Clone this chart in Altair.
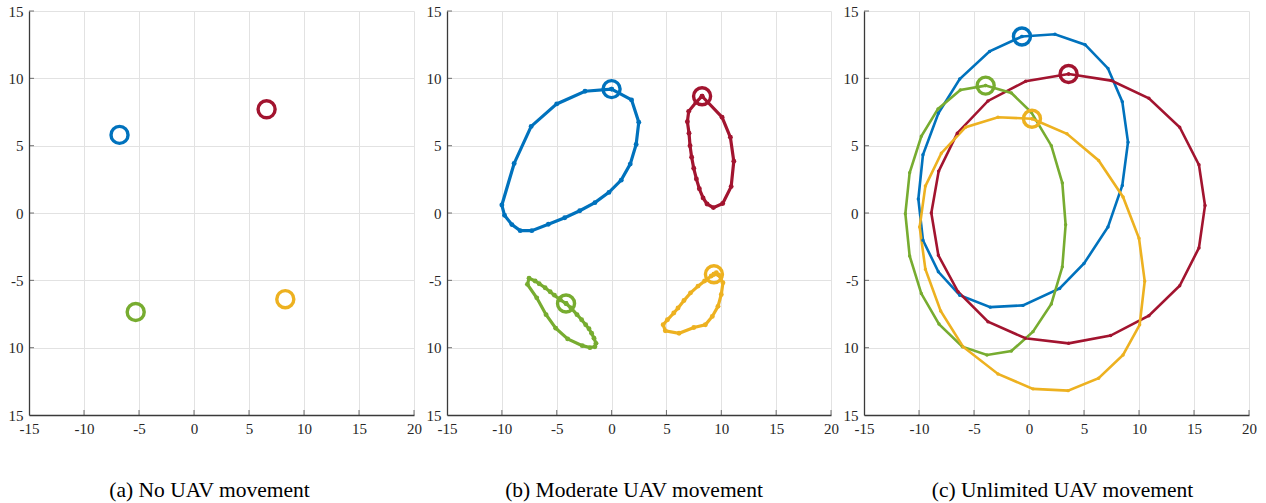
import altair as alt
import pandas as pd

# ---- series colours (UAV 1..4) ----
SERIES = ["UAV 1", "UAV 2", "UAV 3", "UAV 4"]
COLORS = ["#0072BD", "#A2142F", "#77AC30", "#EDB120"]

X_TICKS = [-15, -10, -5, 0, 5, 10, 15, 20]
Y_TICKS = [-15, -10, -5, 0, 5, 10, 15]

# ---- (a) static UAV positions ----
A_X = [-6.77, 6.6, -5.3, 8.3]
A_Y = [5.8, 7.7, -7.35, -6.4]

# ---- (b) moderate movement trajectories (first point = start) ----
B1_X = [0.0, 1.82, 2.48, 2.24, 1.7, 0.88, -0.24, -1.52, -2.9, -4.27, -5.76, -7.27,
        -8.33, -9.09, -9.76, -10.0, -8.88, -7.33, -5.0, -2.42, 0.0]
B1_Y = [9.2, 8.4, 6.74, 5.09, 3.63, 2.44, 1.53, 0.77, 0.17, -0.35, -0.84, -1.31,
        -1.31, -0.86, -0.17, 0.59, 3.68, 6.43, 8.1, 9.04, 9.2]
B2_X = [8.25, 10.07, 10.83, 11.14, 10.9, 10.13, 9.28, 8.7, 8.34, 8.0, 7.73, 7.49,
        7.3, 7.15, 7.06, 6.91, 7.03, 7.7, 8.25]
B2_Y = [8.67, 7.11, 5.62, 3.84, 1.96, 0.7, 0.4, 0.67, 1.12, 1.8, 2.53, 3.32,
        4.14, 5.0, 5.92, 6.78, 7.55, 8.22, 8.67]
B3_X = [-4.15, -3.7, -3.15, -2.73, -2.36, -2.06, -1.82, -1.6, -1.42, -1.52, -1.97,
        -2.67, -4.0, -5.09, -5.97, -6.82, -7.67, -7.52, -6.97, -6.6, -6.06, -5.6,
        -5.21, -4.67, -4.15]
B3_Y = [-6.72, -7.05, -7.55, -7.93, -8.3, -8.6, -8.93, -9.3, -9.68, -9.93, -10.0,
        -9.85, -9.35, -8.55, -7.55, -6.3, -5.3, -4.85, -5.05, -5.25, -5.55, -5.85,
        -6.1, -6.45, -6.72]
B4_X = [9.33, 9.76, 10.15, 10.0, 9.7, 9.18, 8.55, 7.5, 6.15, 4.9, 4.7, 5.09, 5.67,
        6.06, 6.6, 7.2, 7.88, 8.48, 9.09, 9.55, 9.33]
B4_Y = [-4.55, -4.6, -5.18, -6.05, -6.93, -7.68, -8.3, -8.5, -8.93, -8.75, -8.3,
        -7.93, -7.43, -7.05, -6.5, -5.93, -5.43, -5.05, -4.68, -4.43, -4.55]

# ---- (c) unlimited movement trajectories (first point = start) ----
C1_X = [-0.64, 2.36, 5.1, 7.18, 8.48, 9.0, 8.48, 7.18, 5.0, 2.79, -0.55, -3.52,
        -6.3, -8.24, -9.64, -10.06, -9.64, -8.24, -6.3, -3.58, -0.64]
C1_Y = [13.11, 13.27, 12.5, 10.74, 8.27, 5.26, 2.05, -1.04, -3.75, -5.6, -6.86,
        -6.99, -6.1, -4.37, -2.02, 1.04, 4.32, 7.4, 9.95, 12.0, 13.11]
C2_X = [3.6, 7.48, 10.9, 13.7, 15.45, 16.0, 15.45, 13.7, 10.9, 7.42, 3.6, -0.33,
        -3.73, -6.45, -8.24, -8.88, -8.21, -6.52, -3.73, -0.3, 3.6]
C2_Y = [10.32, 9.83, 8.52, 6.37, 3.58, 0.55, -2.59, -5.4, -7.63, -9.1, -9.68, -9.3,
        -8.07, -5.85, -3.14, 0.0, 3.11, 5.93, 8.32, 9.78, 10.32]
C3_X = [-3.94, -1.6, 0.21, 2.03, 3.03, 3.33, 3.03, 2.03, 0.36, -1.6, -3.82, -6.06,
        -8.18, -9.79, -10.85, -11.24, -10.85, -9.79, -8.27, -6.24, -3.94]
C3_Y = [9.46, 8.91, 7.48, 5.0, 2.22, -0.88, -4.0, -6.75, -8.81, -10.25, -10.54,
        -9.93, -8.25, -5.98, -3.19, -0.05, 2.99, 5.7, 7.73, 9.14, 9.46]
C4_X = [0.27, 3.45, 6.33, 8.55, 10.0, 10.52, 10.06, 8.55, 6.33, 3.55, 0.36, -2.82,
        -6.0, -8.03, -9.42, -9.94, -9.42, -7.97, -5.76, -2.82, 0.27]
C4_Y = [7.0, 5.88, 3.9, 1.19, -1.88, -5.06, -8.3, -10.54, -12.27, -13.19, -13.06,
        -11.95, -9.93, -7.28, -4.17, -1.04, 2.0, 4.44, 6.37, 7.11, 7.0]

CAPTIONS = ["(a) No UAV movement", "(b) Moderate UAV movement", "(c) Unlimited UAV movement"]

W, H = 385, 404
AXIS_COLOR = "#3a3a3a"
FONT = "Times New Roman, Liberation Serif, Times, serif"

XS = alt.Scale(domain=[-15, 20], nice=False, zero=False)
YS = alt.Scale(domain=[-15, 15], nice=False, zero=False)
CS = alt.Scale(domain=SERIES, range=COLORS)

X_AXIS = alt.Axis(values=X_TICKS, title=None, grid=True, ticks=False, labelFlush=False,
                  labelPadding=6,
                  labelExpr="datum.value < 0 ? '-' + format(-datum.value, 'd') : format(datum.value, 'd')")
Y_AXIS = alt.Axis(values=Y_TICKS, title=None, grid=True, ticks=False, labelPadding=6,
                  labelExpr="datum.value < -5 ? format(-datum.value, 'd') : "
                            "(datum.value < 0 ? '-' + format(-datum.value, 'd') : format(datum.value, 'd'))")


def xenc(field="x"):
    return alt.X(f"{field}:Q", scale=XS, axis=X_AXIS, title=None)


def yenc(field="y"):
    return alt.Y(f"{field}:Q", scale=YS, axis=Y_AXIS, title=None)


def paths(xs, ys):
    rows = []
    for name, px, py in zip(SERIES, xs, ys):
        for i, (x, y) in enumerate(zip(px, py)):
            rows.append({"uav": name, "step": i, "x": x, "y": y})
    return pd.DataFrame(rows)


def starts(xs, ys):
    return pd.DataFrame({"uav": SERIES, "x": xs, "y": ys})


def inward_ticks():
    # short MATLAB-style ticks drawn on the inside of the left and bottom axes
    xt = alt.Chart(pd.DataFrame({"x": X_TICKS[1:]})).mark_tick(
        orient="vertical", size=5, thickness=1, color=AXIS_COLOR
    ).encode(x=xenc(), y=alt.value(H - 2.5))
    yt = alt.Chart(pd.DataFrame({"y": Y_TICKS[1:]})).mark_tick(
        orient="horizontal", size=5, thickness=1, color=AXIS_COLOR
    ).encode(y=yenc(), x=alt.value(2.5))
    return [xt, yt]


def start_circles(df):
    return alt.Chart(df).mark_point(shape="circle", filled=False, size=290,
                                    strokeWidth=3.4, opacity=1).encode(
        x=xenc(), y=yenc(),
        color=alt.Color("uav:N", scale=CS, legend=None),
    )


def trajectories(df, width, dot):
    return alt.Chart(df).mark_line(
        strokeWidth=width,
        point=alt.OverlayMarkDef(filled=True, size=dot, opacity=1),
    ).encode(
        x=xenc(), y=yenc(),
        color=alt.Color("uav:N", scale=CS, legend=None),
        detail="uav:N",
        order="step:Q",
    )


def caption(text, dx):
    return alt.TitleParams(text=text, orient="bottom", font=FONT, fontSize=21.5,
                           fontWeight="normal", color="black", offset=44,
                           anchor="middle", frame="group", dx=dx)


panel_a = alt.layer(*inward_ticks(), start_circles(starts(A_X, A_Y))).properties(
    width=W, height=H, title=caption(CAPTIONS[0], -12))

b_paths = paths([B1_X, B2_X, B3_X, B4_X], [B1_Y, B2_Y, B3_Y, B4_Y])
b_starts = starts([B1_X[0], B2_X[0], B3_X[0], B4_X[0]], [B1_Y[0], B2_Y[0], B3_Y[0], B4_Y[0]])
panel_b = alt.layer(*inward_ticks(), trajectories(b_paths, 3.2, 24), start_circles(b_starts)).properties(
    width=W - 1, height=H, title=caption(CAPTIONS[1], -5))

c_paths = paths([C1_X, C2_X, C3_X, C4_X], [C1_Y, C2_Y, C3_Y, C4_Y])
c_starts = starts([C1_X[0], C2_X[0], C3_X[0], C4_X[0]], [C1_Y[0], C2_Y[0], C3_Y[0], C4_Y[0]])
panel_c = alt.layer(*inward_ticks(), trajectories(c_paths, 2.6, 12), start_circles(c_starts)).properties(
    width=W, height=H, title=caption(CAPTIONS[2], 6))

chart = alt.hconcat(panel_a, panel_b, panel_c, spacing=4).properties(
    padding={"left": 8, "top": 4, "right": 0, "bottom": 0}
).configure_view(stroke=None).configure_axis(
    labelFont=FONT, labelFontSize=15, labelColor="#262626",
    domainColor=AXIS_COLOR, domainWidth=1.3,
    gridColor="#e2e2e2", gridWidth=1,
)

chart.save("out.html", embed_options={"renderer": "svg", "actions": False})
